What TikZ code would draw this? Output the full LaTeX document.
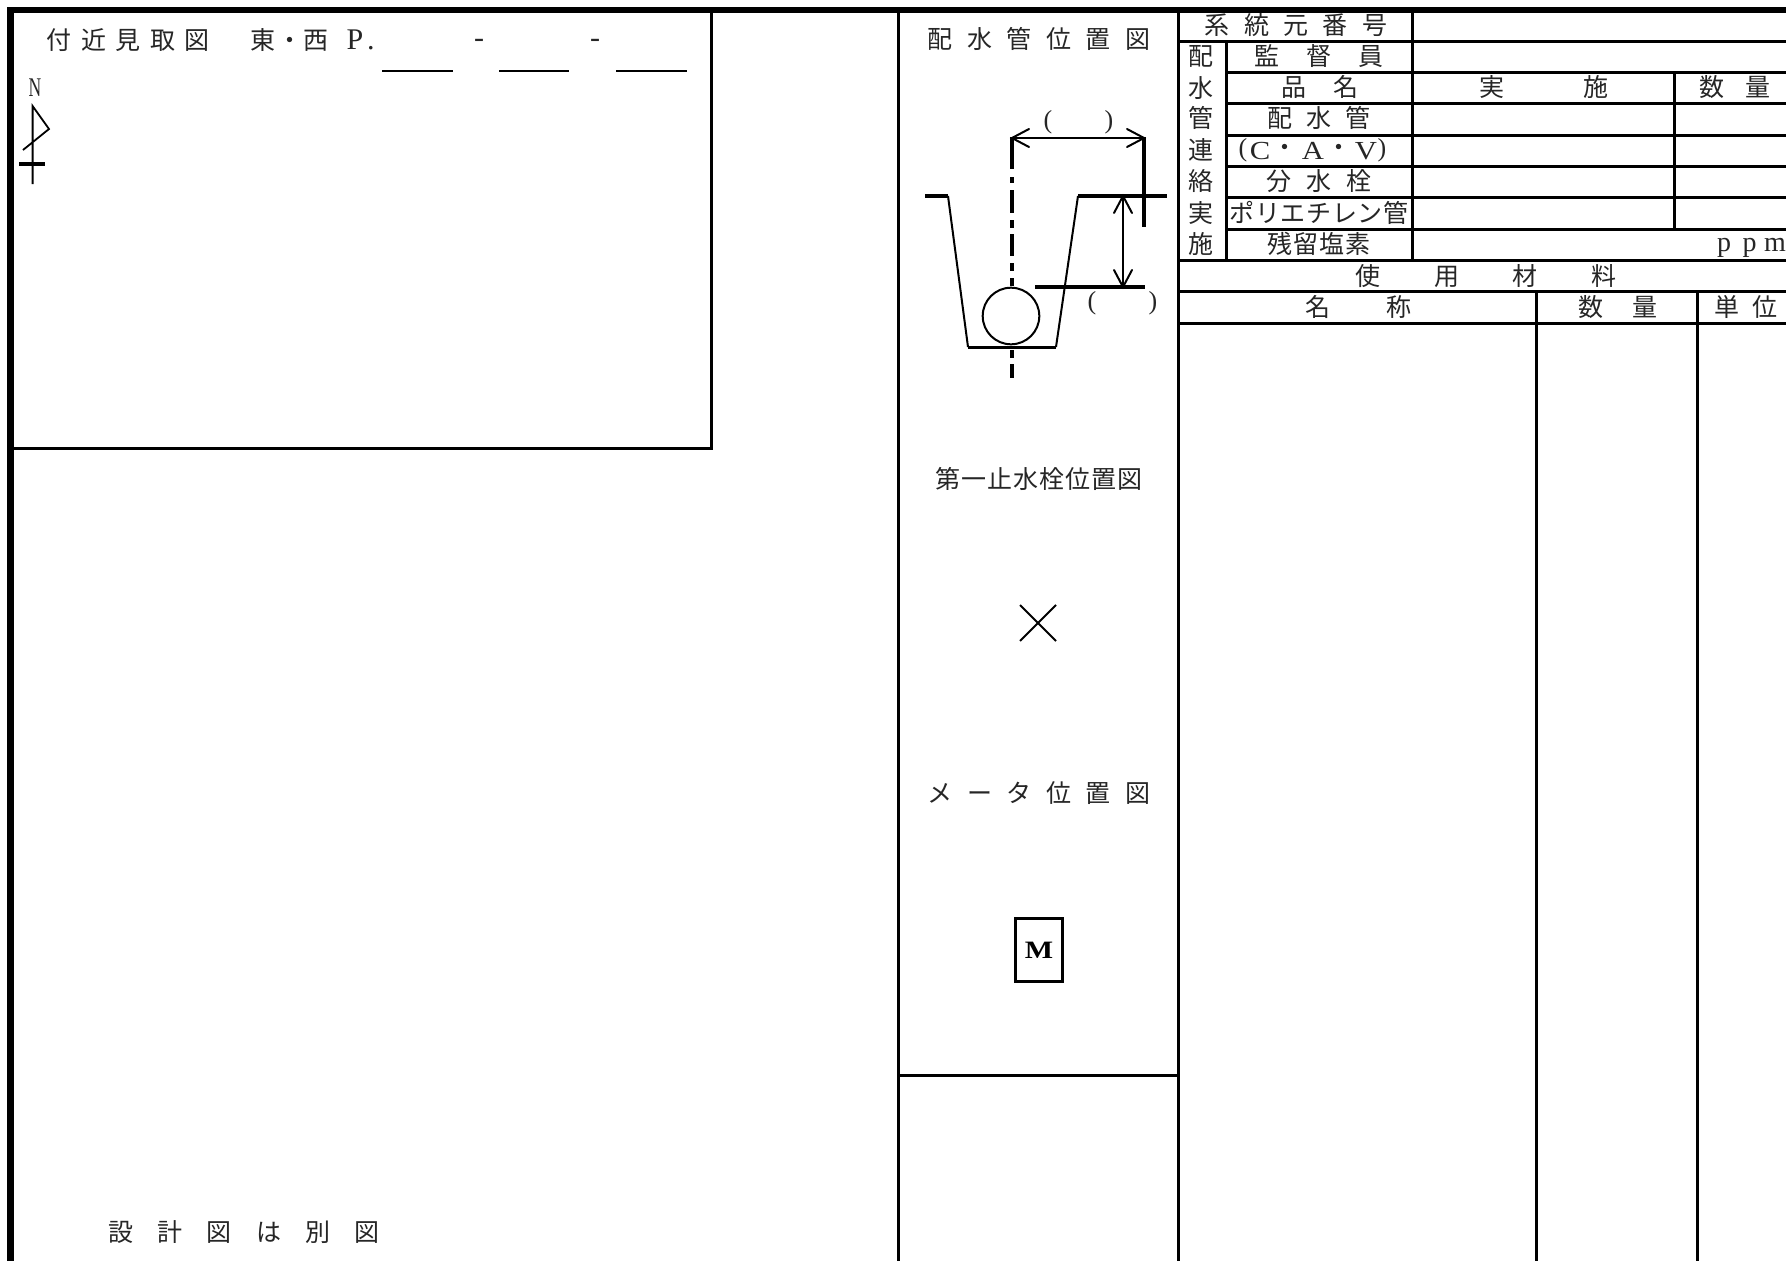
\documentclass[tikz,border=0pt]{standalone}
\usepackage{fontspec}
\newfontfamily\jp{Noto Sans CJK JP}
\newfontfamily\lat{Liberation Serif}
\makeatletter
\newcommand{\tsp}[2]{\@tfor\tspc:=#2\do{\hbox to #1pt{\hss\tspc\hss}}}
\makeatother
\tikzset{
  jt/.style={font=\jp\fontsize{25}{25}\selectfont,inner sep=0pt,outer sep=0pt,text=black!85,anchor=center},
  lt/.style={font=\lat\fontsize{26}{26}\selectfont,inner sep=0pt,outer sep=0pt,text=black!85,anchor=center},
  wide/.style={lt,xscale=1.18},
  frame/.style={line width=6.5pt,line cap=butt},
  rule/.style={line width=3pt,line cap=butt},
  fine/.style={line width=1.4pt,line cap=butt},
  thick2/.style={line width=3.5pt,line cap=butt},
  dim/.style={line width=1.6pt},
  vee/.style={line width=2pt,line cap=round}
}
\begin{document}
\begin{tikzpicture}[x=1pt,y=-1pt]
\useasboundingbox (0,0) rectangle (1786,1261);
\fill[white] (0,0) rectangle (1786,1261);
% outer frame
\draw[frame] (8,10) -- (1786,10);
\draw[frame] (10.5,7) -- (10.5,1261);
% location map box
\draw[rule] (711,10) -- (711,448.5) -- (11,448.5);
% centre column
\draw[rule] (898,10) -- (898,1261);
\draw[rule] (1178,10) -- (1178,1261);
\draw[rule] (898,1075) -- (1178,1075);
% table rules
\foreach \yy in {41,260,291,323} \draw[rule] (1178,\yy) -- (1786,\yy);
\foreach \yy in {72,103,135,166,197,229} \draw[rule] (1226,\yy) -- (1786,\yy);
\draw[rule] (1226,41) -- (1226,260);
\draw[rule] (1412,10) -- (1412,260);
\draw[rule] (1674,72) -- (1674,229);
\draw[rule] (1536.5,291) -- (1536.5,1261);
\draw[rule] (1697,291) -- (1697,1261);
% location map header
\node[jt] (a1) at (128,40) {\tsp{34.5}{付近見取図}};
\node[jt] (a2) at (289.5,40) {\tsp{26.5}{東・西}};
\node[lt,font=\lat\fontsize{30}{30}\selectfont] (a3) at (363,40) {\tsp{16}{P.}};
\node[lt,font=\lat\fontsize{30}{30}\selectfont] (a4) at (479,43) {-};
\node[lt,font=\lat\fontsize{30}{30}\selectfont] (a5) at (595,43) {-};
\draw[fine] (382,71) -- (452.5,71);
\draw[fine] (499,71) -- (569,71);
\draw[fine] (616,71) -- (687,71);
% north mark
\node[lt,font=\lat\fontsize{27}{27}\selectfont,xscale=.65] (n) at (35,88) {N};
\draw[line width=1.8pt] (32.6,184) -- (32.6,106) -- (49,129) -- (23,150);
\draw[line width=3.4pt] (19,164) -- (45,164);
% pipe position
\node[jt] (b1) at (1039,39) {\tsp{39.6}{配水管位置図}};
\node[lt] (b2) at (1048,122) {(};
\node[lt] (b3) at (1109,122) {)};
\node[lt] (b4) at (1092,303) {(};
\node[lt] (b5) at (1153,303) {)};
\draw[thick2] (925,196) -- (948,196);
\draw[line width=2pt] (948,196) -- (968,347);
\draw[line width=3pt] (968,347) -- (1056,347);
\draw[line width=2pt] (1056,347) -- (1078,196);
\draw[thick2] (1078,196) -- (1167,196);
\draw[thick2] (1035,287) -- (1145,287);
\draw[line width=2pt] (1011,316) circle (28.3);
\draw[thick2] (1144,137) -- (1144,227);
\coordinate (hl) at (1012,138);
\coordinate (hr) at (1144,138);
\coordinate (vt) at (1123,196);
\coordinate (vb) at (1123,287);
\draw[dim] (hl) -- (hr);
\draw[dim] (vt) -- (vb);
\draw[vee] (1029,129) -- (hl) -- (1029,147);
\draw[vee] (1127,129) -- (hr) -- (1127,147);
\draw[vee] (1114,213) -- (vt) -- (1132,213);
\draw[vee] (1114,270) -- (vb) -- (1132,270);
\draw[thick2] (1012,137) -- (1012,169);
\foreach \ya/\yb in {177/183,190/213,220/228,234/256,263/271,278/286,350/358,364/378} \draw[thick2] (1012,\ya) -- (1012,\yb);
% stop valve
\node[jt] (c1) at (1039,479) {\tsp{26}{第一止水栓位置図}};
\draw[line width=2pt] (1020,605) -- (1056,641);
\draw[line width=2pt] (1020,641) -- (1056,605);
% meter
\node[draw,line width=3pt,minimum width=47pt,minimum height=63pt,inner sep=0pt] (m) at (1038.5,950) {};
\node[inner sep=0pt,xscale=1.2,font=\lat\bfseries\fontsize{25}{25}\selectfont] (mt) at (1039,950) {M};
\node[jt] (d1) at (1039,793) {\tsp{39.6}{メータ位置図}};
% bottom note
\node[jt] (e1) at (244,1232) {\tsp{49.2}{設計図は別図}};
% table text
\node[jt] (f1) at (1296,25) {\tsp{39.3}{系統元番号}};
\node[jt] (f2) at (1319,56) {\tsp{52}{監督員}};
\node[jt] (f3) at (1320,87) {\tsp{52}{品名}};
\node[jt] (f4) at (1319,118) {\tsp{39.5}{配水管}};
\node[lt] (f5a) at (1243,150) {(};
\node[wide] (f5b) at (1260,151) {C};
\node[jt] (f5d) at (1285,150) {・};
\node[wide] (f5e) at (1313,151) {A};
\node[jt] (f5f) at (1339,150) {・};
\node[wide] (f5g) at (1366,151) {V};
\node[lt] (f5h) at (1382,150) {)};
\node[jt] (f6) at (1319,181) {\tsp{40}{分水栓}};
\node[jt] (f7) at (1319,213) {\tsp{25.6}{ポリエチレン管}};
\node[jt] (f8) at (1319,244) {\tsp{26}{残留塩素}};
\node[lt,font=\lat\fontsize{28}{28}\selectfont] (f9) at (1749.5,248) {\tsp{25.5}{ppm}};
\node[jt] (g1) at (1544,87) {\tsp{104}{実施}};
\node[jt] (g2) at (1735,87) {\tsp{47}{数量}};
\node[jt] (h1) at (1486,276) {\tsp{78.7}{使用材料}};
\node[jt] (h2) at (1358,307) {\tsp{81}{名称}};
\node[jt] (h3) at (1618,307) {\tsp{54}{数量}};
\node[jt] (h4) at (1746,307) {\tsp{38}{単位}};
\node[jt] (v1) at (1201,56) {配};
\node[jt] (v2) at (1201,88) {水};
\node[jt] (v3) at (1201,118) {管};
\node[jt] (v4) at (1201,150) {連};
\node[jt] (v5) at (1201,181) {絡};
\node[jt] (v6) at (1201,213) {実};
\node[jt] (v7) at (1201,244) {施};
\end{tikzpicture}
\end{document}
